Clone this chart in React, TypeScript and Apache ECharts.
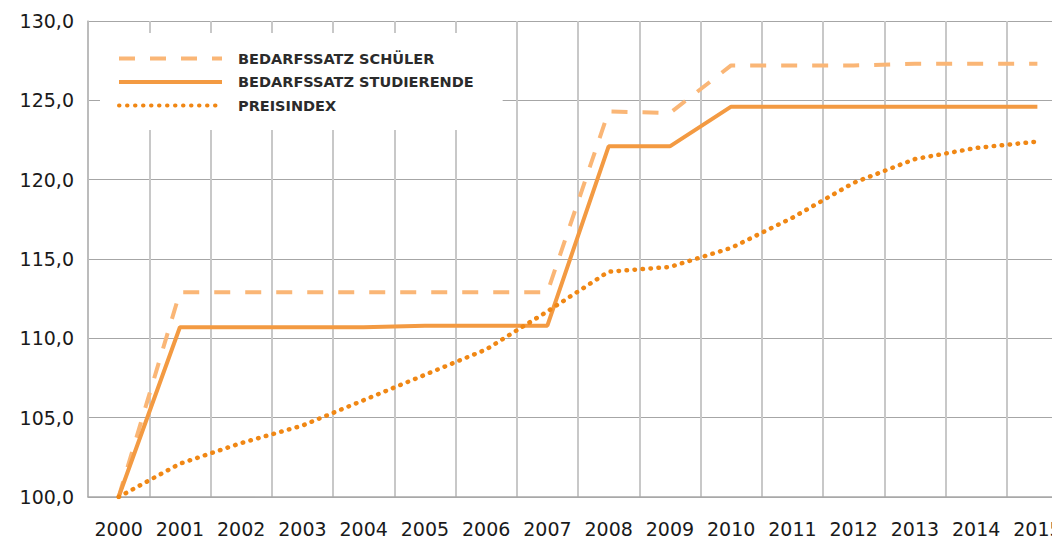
import React, { useEffect, useRef } from "react";
import * as echarts from "echarts";

const years = ["2000", "2001", "2002", "2003", "2004", "2005", "2006", "2007", "2008", "2009", "2010", "2011", "2012", "2013", "2014", "2015"];
const schueler = [100, 112.9, 112.9, 112.9, 112.9, 112.9, 112.9, 112.9, 124.3, 124.2, 127.2, 127.2, 127.2, 127.3, 127.3, 127.3];
const studierende = [100, 110.7, 110.7, 110.7, 110.7, 110.8, 110.8, 110.8, 122.1, 122.1, 124.6, 124.6, 124.6, 124.6, 124.6, 124.6];
const preisindex = [100, 102.1, 103.4, 104.5, 106.1, 107.7, 109.3, 111.7, 114.2, 114.5, 115.7, 117.6, 119.8, 121.3, 122.0, 122.4];
const seriesNames = ["BEDARFSSATZ SCHÜLER", "BEDARFSSATZ STUDIERENDE", "PREISINDEX"];

export default function App() {
  const ref = useRef<HTMLDivElement>(null);
  useEffect(() => {
    document.body.style.margin = "0";
    const chart = echarts.init(ref.current!, null, { renderer: "svg" });
    chart.setOption({
      animation: false,
      backgroundColor: "#ffffff",
      grid: { left: 88, top: 21, width: 980, height: 476, outerBoundsMode: "none", containLabel: false },
      legend: {
        orient: "vertical",
        left: 100,
        top: 33,
        padding: [18, 29, 17, 17],
        backgroundColor: "#ffffff",
        itemWidth: 103,
        itemHeight: 14,
        itemGap: 8.5,
        data: seriesNames,
        itemStyle: { opacity: 0 },
        lineStyle: { width: 4 },
        textStyle: {
          fontFamily: "DejaVu Sans",
          fontWeight: "bold",
          fontSize: 14.5,
          color: "#2b2b2b",
          padding: [0, 0, 0, 11],
        },
      },
      xAxis: {
        type: "category",
        data: years,
        boundaryGap: true,
        axisLine: { show: true, lineStyle: { color: "#a8a8a8", width: 1.5 } },
        axisTick: { show: false },
        axisLabel: {
          interval: 0,
          margin: 22,
          fontFamily: "DejaVu Sans",
          fontSize: 19,
          color: "#1a1a1a",
        },
        splitLine: { show: true, interval: 0, lineStyle: { color: "#c8c8c8", width: 2 } },
      },
      yAxis: {
        type: "value",
        min: 100,
        max: 130,
        interval: 5,
        axisLine: { show: true, lineStyle: { color: "#b8b8b8", width: 1.5 } },
        axisTick: { show: false },
        axisLabel: {
          margin: 14,
          fontFamily: "DejaVu Sans",
          fontSize: 19,
          color: "#1a1a1a",
          formatter: (v: number) => v.toFixed(1).replace(".", ","),
        },
        splitLine: { show: true, lineStyle: { color: "#a6a6a6", width: 1.2 } },
      },
      series: [
        {
          name: seriesNames[0],
          type: "line",
          data: schueler,
          symbol: "none",
          lineStyle: { color: "#fab676", width: 4, type: [16, 15], cap: "butt" },
          itemStyle: { color: "#fab676" },
        },
        {
          name: seriesNames[1],
          type: "line",
          data: studierende,
          symbol: "none",
          lineStyle: { color: "#f39a42", width: 4, type: "solid" },
          itemStyle: { color: "#f39a42" },
        },
        {
          name: seriesNames[2],
          type: "line",
          data: preisindex,
          symbol: "none",
          lineStyle: { color: "#f08714", width: 4.5, type: [0.5, 7.5], cap: "round" },
          itemStyle: { color: "#f08714" },
        },
      ],
    });
    return () => chart.dispose();
  }, []);
  return <div ref={ref} style={{ width: 1052, height: 542 }} />;
}
